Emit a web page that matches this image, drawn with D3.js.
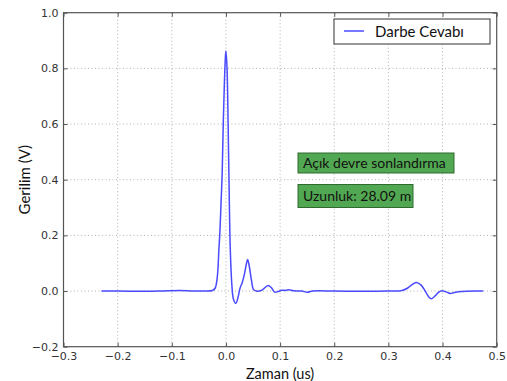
<!DOCTYPE html>
<html>
<head>
<meta charset="utf-8">
<script src="https://cdn.jsdelivr.net/npm/d3@7"></script>
<style>
  html, body { margin: 0; padding: 0; background: #fff; }
  svg { display: block; }
</style>
</head>
<body>
<div id="chart"></div>
<script>
// ---- data ----
const times = [
  -0.230, -0.200, -0.150, -0.120, -0.086, -0.060, -0.040, -0.025, -0.020, -0.016,
  -0.013, -0.011, -0.009, -0.007, -0.005, -0.003, -0.001, 0.000, 0.002, 0.004,
  0.006, 0.008, 0.011, 0.014, 0.0185, 0.022, 0.026, 0.030, 0.034, 0.038,
  0.040, 0.043, 0.047, 0.051, 0.056, 0.065, 0.072, 0.078, 0.084, 0.090,
  0.096, 0.103, 0.110, 0.116, 0.125, 0.140, 0.150, 0.160, 0.200, 0.250,
  0.300, 0.325, 0.335, 0.345, 0.352, 0.360, 0.368, 0.374, 0.379, 0.386,
  0.393, 0.399, 0.405, 0.410, 0.415, 0.420, 0.430, 0.445, 0.460, 0.475
];
const voltages = [
  0.000, 0.000, -0.001, 0.000, 0.002, 0.000, 0.000, 0.002, 0.010, 0.050,
  0.150, 0.220, 0.320, 0.420, 0.600, 0.740, 0.840, 0.862, 0.800, 0.600,
  0.350, 0.150, 0.020, -0.030, -0.044, -0.025, 0.010, 0.030, 0.060, 0.100,
  0.113, 0.090, 0.040, 0.005, 0.000, 0.002, 0.012, 0.020, 0.012, -0.004,
  -0.002, 0.003, 0.002, 0.005, 0.001, 0.000, -0.004, 0.000, 0.000, -0.001,
  0.000, 0.002, 0.010, 0.025, 0.031, 0.022, 0.000, -0.020, -0.028, -0.018,
  -0.004, 0.001, -0.002, -0.006, -0.009, -0.006, -0.003, -0.001, 0.000, 0.000
];
const xTicks = [-0.3, -0.2, -0.1, 0.0, 0.1, 0.2, 0.3, 0.4, 0.5];
const yTicks = [-0.2, 0.0, 0.2, 0.4, 0.6, 0.8, 1.0];
const seriesName = "Darbe Cevabı";
const xLabel = "Zaman (us)";
const yLabel = "Gerilim (V)";
const annotations = ["Açık devre sonlandırma", "Uzunluk: 28.09 m"];

// ---- layout ----
const W = 507, H = 381;
const m = { left: 63.5, right: 507 - 496.7, top: 12.7, bottom: 381 - 346.7 };
const pw = W - m.left - m.right, ph = H - m.top - m.bottom;

const svg = d3.select("#chart").append("svg").attr("width", W).attr("height", H);
svg.append("rect").attr("width", W).attr("height", H).attr("fill", "#fff");

const x = d3.scaleLinear().domain([-0.3, 0.5]).range([m.left, m.left + pw]);
const y = d3.scaleLinear().domain([-0.2, 1.0]).range([m.top + ph, m.top]);

const fmt = v => d3.format(".1f")(v).replace("-", "\u2212");

// grid
const grid = svg.append("g").attr("stroke", "#b0b0b0").attr("stroke-width", 1)
  .attr("stroke-dasharray", "1,2.5");
xTicks.slice(1, -1).forEach(t => grid.append("line")
  .attr("x1", x(t)).attr("x2", x(t)).attr("y1", m.top).attr("y2", m.top + ph));
yTicks.slice(1, -1).forEach(t => grid.append("line")
  .attr("y1", y(t)).attr("y2", y(t)).attr("x1", m.left).attr("x2", m.left + pw));

// axes (inward ticks)
const tickFont = "'DejaVu Sans', sans-serif";
const xAxis = svg.append("g").attr("transform", `translate(0,${m.top + ph})`)
  .call(d3.axisBottom(x).tickValues(xTicks).tickFormat(fmt).tickSizeInner(-4).tickSizeOuter(0).tickPadding(6));
const yAxis = svg.append("g").attr("transform", `translate(${m.left},0)`)
  .call(d3.axisLeft(y).tickValues(yTicks).tickFormat(fmt).tickSizeInner(-4).tickSizeOuter(0).tickPadding(5));
const xAxisTop = svg.append("g").attr("transform", `translate(0,${m.top})`)
  .call(d3.axisTop(x).tickValues(xTicks).tickFormat("").tickSizeInner(-4).tickSizeOuter(0));
const yAxisRight = svg.append("g").attr("transform", `translate(${m.left + pw},0)`)
  .call(d3.axisRight(y).tickValues(yTicks).tickFormat("").tickSizeInner(-4).tickSizeOuter(0));
[xAxis, yAxis, xAxisTop, yAxisRight].forEach(a => {
  a.select(".domain").remove();
  a.selectAll(".tick line").attr("stroke", "#555");
  a.selectAll("text").attr("font-family", tickFont).attr("font-size", 11).attr("fill", "#333");
});

// frame
svg.append("rect").attr("x", m.left).attr("y", m.top).attr("width", pw).attr("height", ph)
  .attr("fill", "none").attr("stroke", "#555").attr("stroke-width", 1.2);

// line
const line = d3.line().x((d, i) => x(times[i])).y((d, i) => y(voltages[i]))
  .curve(d3.curveCatmullRom.alpha(0.5));
svg.append("path").datum(voltages).attr("d", line)
  .attr("fill", "none").attr("stroke", "#4a4aff").attr("stroke-width", 1.5)
  .attr("stroke-linejoin", "round");

// axis labels
const labFont = "Lato, 'Open Sans', sans-serif";
svg.append("text").attr("x", (m.left + m.left + pw) / 2).attr("y", 378.5)
  .attr("text-anchor", "middle").attr("font-family", labFont).attr("font-size", 14.5)
  .attr("fill", "#111").text(xLabel);
svg.append("text").attr("transform", `translate(30,${m.top + ph / 2}) rotate(-90)`)
  .attr("text-anchor", "middle").attr("font-family", labFont).attr("font-size", 15)
  .attr("fill", "#111").text(yLabel);

// legend
svg.append("rect").attr("x", 334).attr("y", 19).attr("width", 156).attr("height", 25)
  .attr("fill", "#fff").attr("stroke", "#333").attr("stroke-width", 1);
svg.append("line").attr("x1", 344).attr("x2", 364).attr("y1", 31).attr("y2", 31)
  .attr("stroke", "#4a4aff").attr("stroke-width", 1.5);
svg.append("text").attr("x", 375).attr("y", 36.5).attr("font-family", labFont)
  .attr("font-size", 15).attr("fill", "#111").text(seriesName);

// annotation boxes
const boxes = [
  { x: 298, y: 153, w: 156, h: 20 },
  { x: 298, y: 184.5, w: 115, h: 23 }
];
annotations.forEach((t, i) => {
  const b = boxes[i];
  svg.append("rect").attr("x", b.x).attr("y", b.y).attr("width", b.w).attr("height", b.h)
    .attr("fill", "#52a852").attr("stroke", "#2f6a2f").attr("stroke-width", 1);
  svg.append("text").attr("x", b.x + 5).attr("y", b.y + b.h / 2 + 4.5)
    .attr("font-family", labFont).attr("font-size", 14).attr("fill", "#111").text(t);
});
</script>
</body>
</html>
